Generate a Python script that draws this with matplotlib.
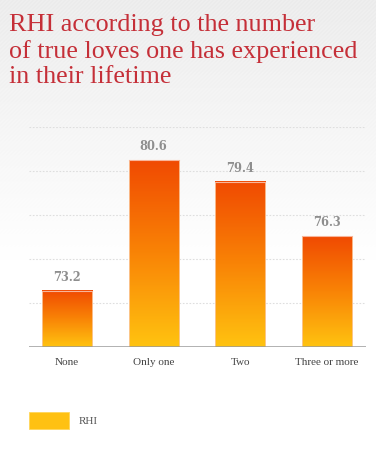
import numpy as np
import matplotlib
matplotlib.use("Agg")
import matplotlib.pyplot as plt
from matplotlib.colors import LinearSegmentedColormap
from matplotlib.patches import Rectangle

categories = ["None", "Only one", "Two", "Three or more"]
rhi = [73.2, 80.6, 79.4, 76.3]
title = "RHI according to the number\nof true loves one has experienced\nin their lifetime"
series_name = "RHI"

W, H = 376, 458
fig = plt.figure(figsize=(W / 100, H / 100), dpi=100)

# background: light grey with faint diagonal stripes fading to white
bg = fig.add_axes([0, 0, 1, 1], zorder=-10)
yy, xx = np.mgrid[0:H, 0:W]
fade = np.clip(1 - yy / 260.0, 0, 1)
stripes = ((xx + yy) % 4 < 2) * 0.012
shade = 1 - fade * (0.065 + stripes)
bg.imshow(np.dstack([shade, shade, shade]), extent=(0, W, H, 0), aspect="auto")
bg.set_xlim(0, W)
bg.set_ylim(H, 0)
bg.axis("off")

fig.text(9 / W, 1 - 14 / H, title, ha="left", va="top", fontsize=18.8,
         family="Liberation Serif", color="#c52f38", linespacing=1.2)

ax = fig.add_axes([29 / W, 1 - 347 / H, 337 / W, 220 / H])
ax.patch.set_alpha(0)
ymin, ymax = 70, 82.5

for g in [72.5, 75, 77.5, 80, 82.5]:
    ax.axhline(g, color="#dedede", lw=0.8, ls=(0, (1.5, 1.5)), zorder=0)

cmap = LinearSegmentedColormap.from_list("fire", ["#ffc310", "#f98406", "#f04a02"])
grad = np.linspace(0, 1, 256).reshape(-1, 1)
width = 0.577
for i, v in enumerate(rhi):
    x0, x1 = i - width / 2, i + width / 2
    ax.imshow(grad, cmap=cmap, extent=(x0, x1, ymin, v), origin="lower",
              aspect="auto", zorder=2)
    ax.add_patch(Rectangle((x0, ymin), width, v - ymin, fill=False,
                           ec="#fbc9a0", lw=0.6, zorder=3))
    ax.plot([x0, x1], [v, v], color="#f8b59a", lw=0.8, zorder=3)
    ax.text(i, v + 0.4, f"{v:.1f}", ha="center", va="bottom", fontsize=8.3,
            family="DejaVu Serif", weight="bold", color="#8e8e8e")
ax.set_xlim(-0.438, 3.449)
ax.set_ylim(ymin, ymax)

ax.axhline(ymin, color="#9a9a9a", lw=1.8, zorder=4)
for s in ax.spines.values():
    s.set_visible(False)
ax.set_yticks([])
ax.set_xticks(range(len(categories)))
ax.set_xticklabels(categories, family="Liberation Serif", fontsize=8, color="#444444")
ax.tick_params(axis="x", length=0, pad=8)

# legend
fig.patches.append(Rectangle((29 / W, 1 - 429 / H), 40 / W, 17 / H,
                             transform=fig.transFigure, fc="#ffc112", ec="#ffd65a", lw=0.6))
fig.text(79 / W, 1 - 422 / H, series_name, ha="left", va="center", fontsize=8,
         family="Liberation Serif", color="#555555")

fig.savefig("out.png", dpi=100)
